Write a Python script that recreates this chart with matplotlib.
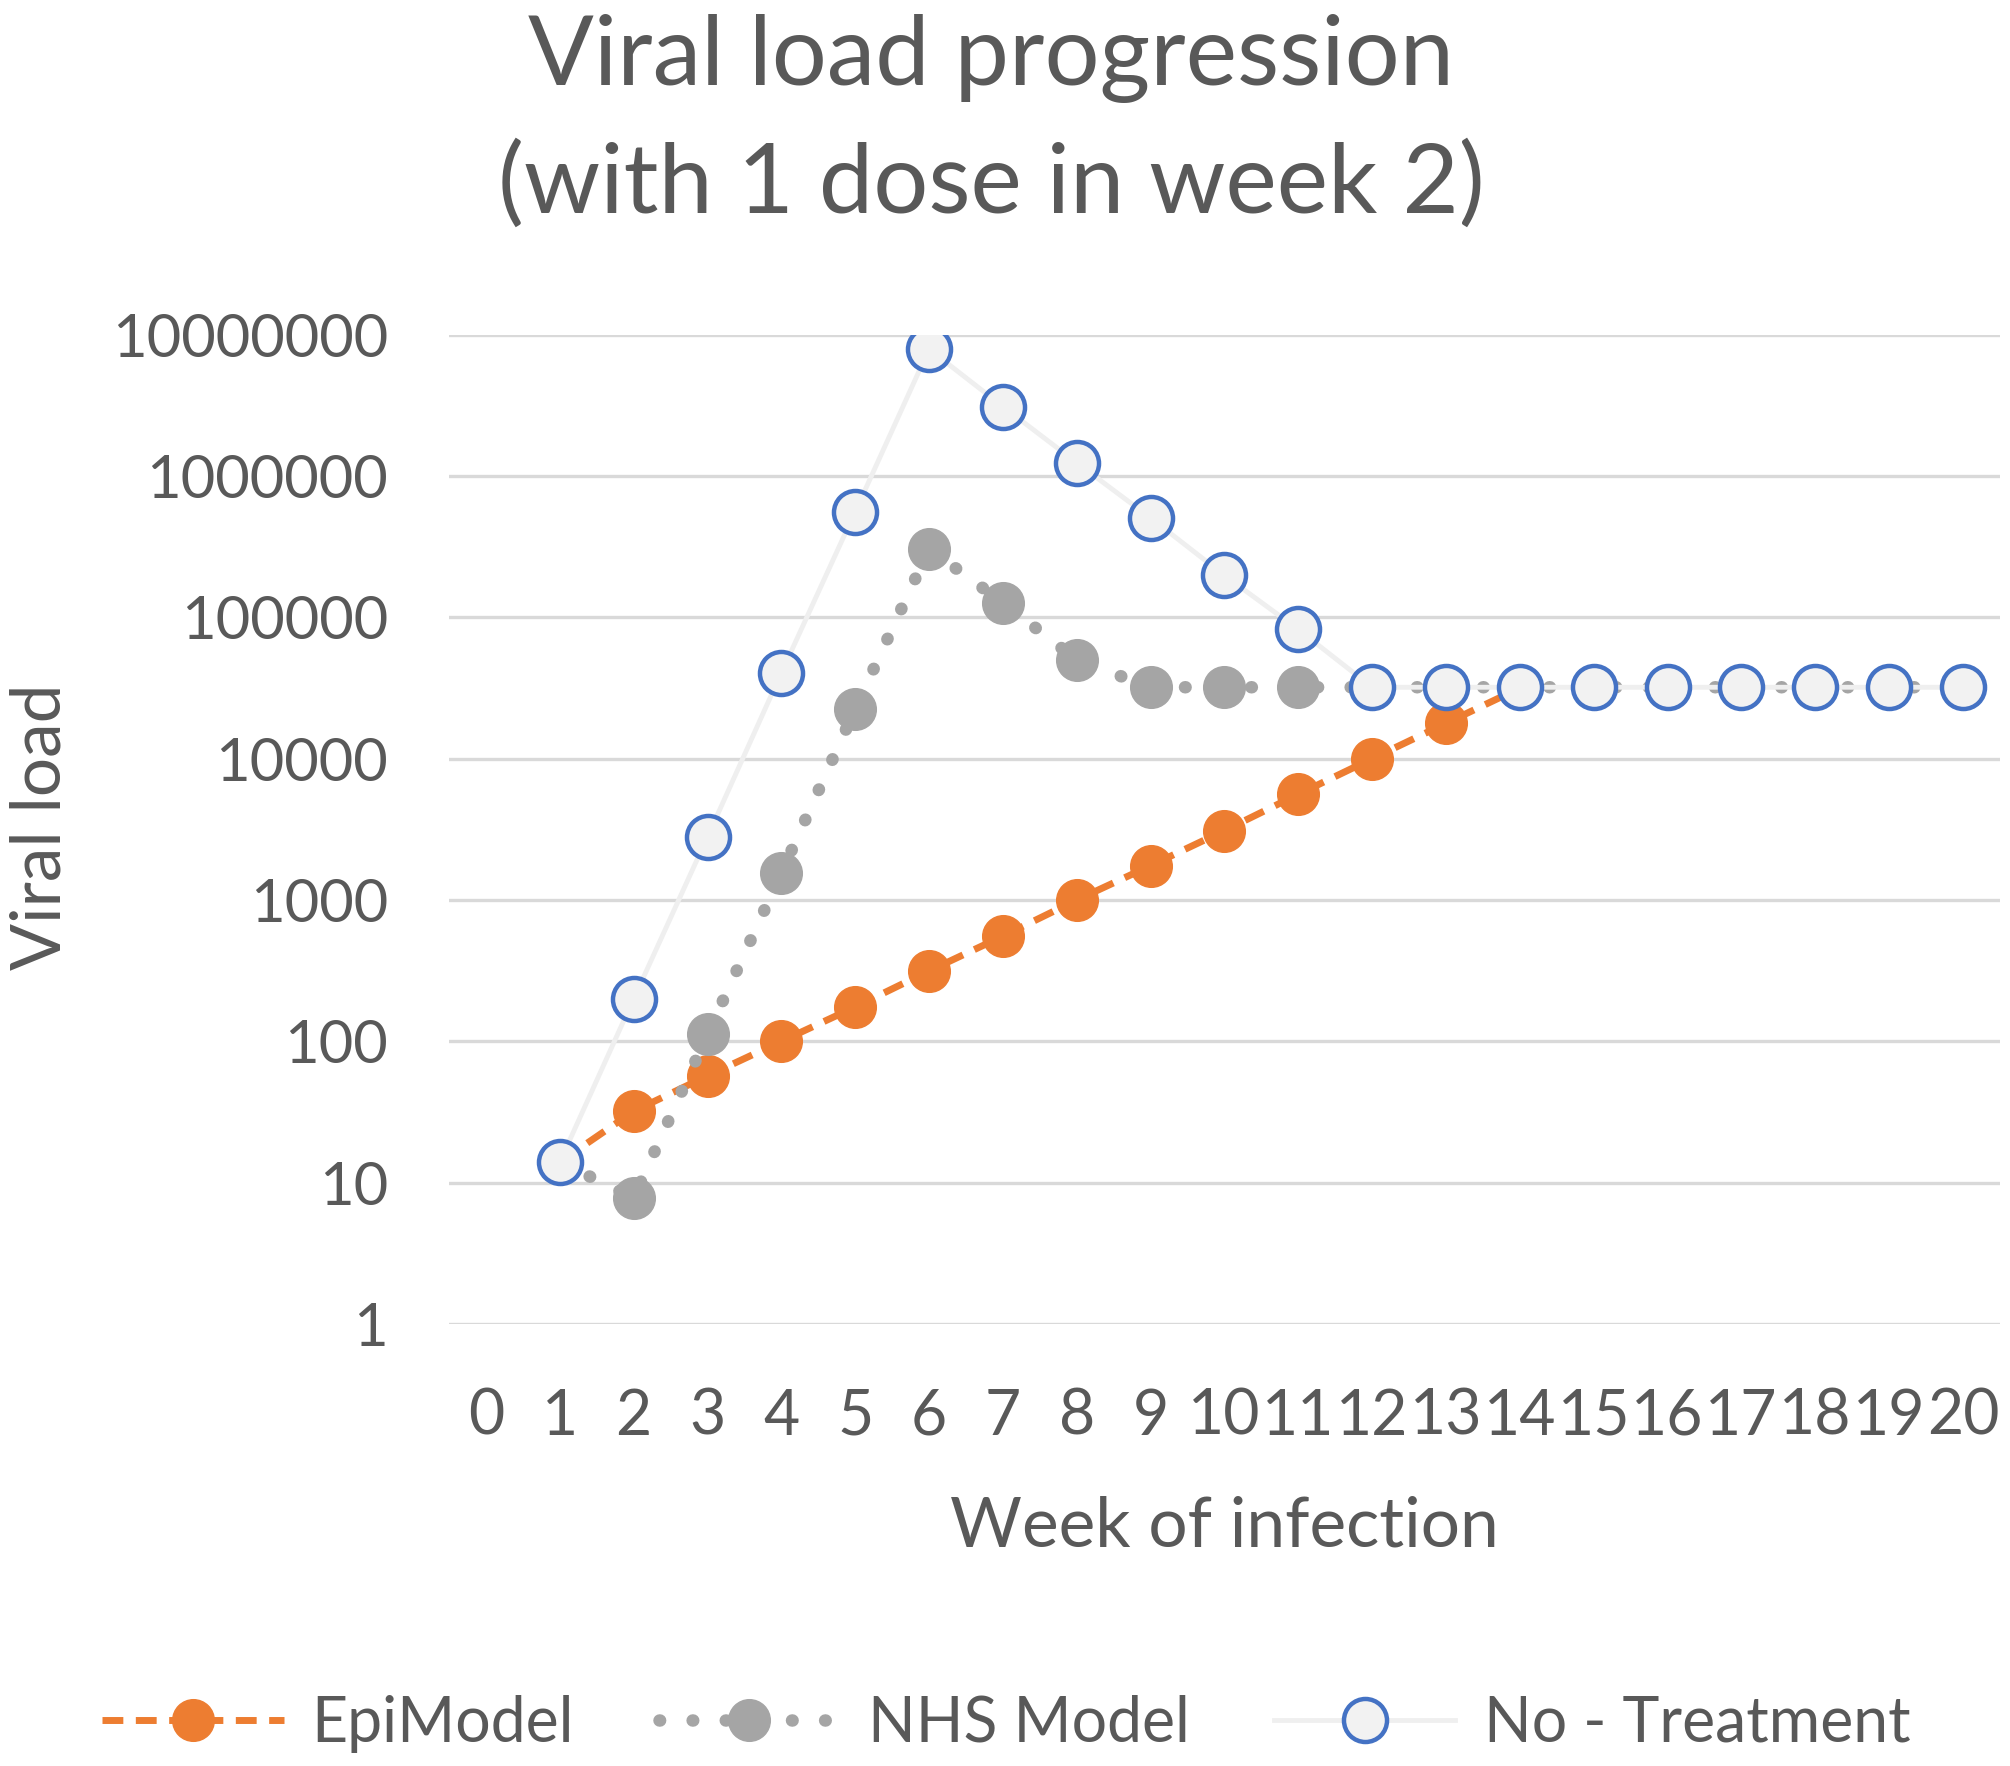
import matplotlib
matplotlib.use("Agg")
import matplotlib.pyplot as plt
from matplotlib.ticker import FixedLocator, FixedFormatter, NullLocator

plt.rcParams['font.family'] = ['Lato', 'DejaVu Sans']

TXT = "#595959"

# data
weeks = list(range(1, 21))
week_labels = [str(w) for w in range(0, 21)]

epi_weeks = list(range(1, 15))
epi_model = [14, 32, 57, 100, 175, 315, 555, 1000, 1750, 3100, 5600, 10000, 17800, 31600]

nhs_model = [14, 7.8, 112, 1550, 22500, 305000, 127000, 50000, 32000, 32000,
             32000, 32000, 32000, 32000, 32000, 32000, 32000, 32000, 32000, 32000]

no_treatment = [14, 200, 2800, 40500, 560000, 7900000, 3100000, 1240000, 505000, 198000,
                82000, 32000, 32000, 32000, 32000, 32000, 32000, 32000, 32000, 32000]

y_ticks = [1, 10, 100, 1000, 10000, 100000, 1000000, 10000000]

fig = plt.figure(figsize=(20.1, 17.66), dpi=100)
ax = fig.add_axes([0.2234, 0.2503, 0.7716, 0.5602])

ax.plot(epi_weeks, epi_model, color="#ED7D31", lw=5.0, ls=(0, (3, 1.8)),
        marker="o", ms=30, mfc="#ED7D31", mec="#ED7D31", label="EpiModel", zorder=3)
ax.plot(weeks, nhs_model, color="#A5A5A5", lw=9.0, ls=(0, (0.05, 2.6)),
        dash_capstyle="round", marker="o", ms=30, mfc="#A5A5A5", mec="#A5A5A5",
        label="NHS Model", zorder=4)
ax.plot(weeks, no_treatment, color="#EFEFEF", lw=3.5, marker="o", ms=31,
        mfc="#F2F2F2", mec="#4472C4", mew=3.2, label="No - Treatment", zorder=5)

ax.set_yscale("log")
ax.set_ylim(1, 1e7)
ax.set_xlim(-0.5, 20.5)
ax.yaxis.set_major_locator(FixedLocator(y_ticks))
ax.yaxis.set_major_formatter(FixedFormatter([str(v) for v in y_ticks]))
ax.yaxis.set_minor_locator(NullLocator())
ax.set_xticks(range(0, 21))
ax.set_xticklabels(week_labels)

ax.grid(axis="y", color="#D9D9D9", lw=2.4)
ax.set_axisbelow(True)
for s in ax.spines.values():
    s.set_visible(False)
ax.tick_params(axis="both", length=0, colors=TXT, labelsize=43)
ax.tick_params(axis="x", labelsize=45)
ax.tick_params(axis="y", pad=44)
ax.tick_params(axis="x", pad=46)

ax.set_xlabel("Week of infection", fontsize=50, color=TXT, labelpad=36)
fig.text(0.0204, 0.532, "Viral load", rotation=90, ha="center", va="center",
         fontsize=50, color=TXT)

fig.text(0.493, 0.967, "Viral load progression", ha="center", va="center",
         fontsize=70, color=TXT)
fig.text(0.493, 0.895, "(with 1 dose in week 2)", ha="center", va="center",
         fontsize=70, color=TXT)

fig.legend(loc="center", bbox_to_anchor=(0.5006, 0.024), ncol=3, frameon=False,
           fontsize=45, labelcolor=TXT, handlelength=2.9, columnspacing=1.35,
           handletextpad=0.45, numpoints=1)

fig.savefig("out.png", dpi=100)
